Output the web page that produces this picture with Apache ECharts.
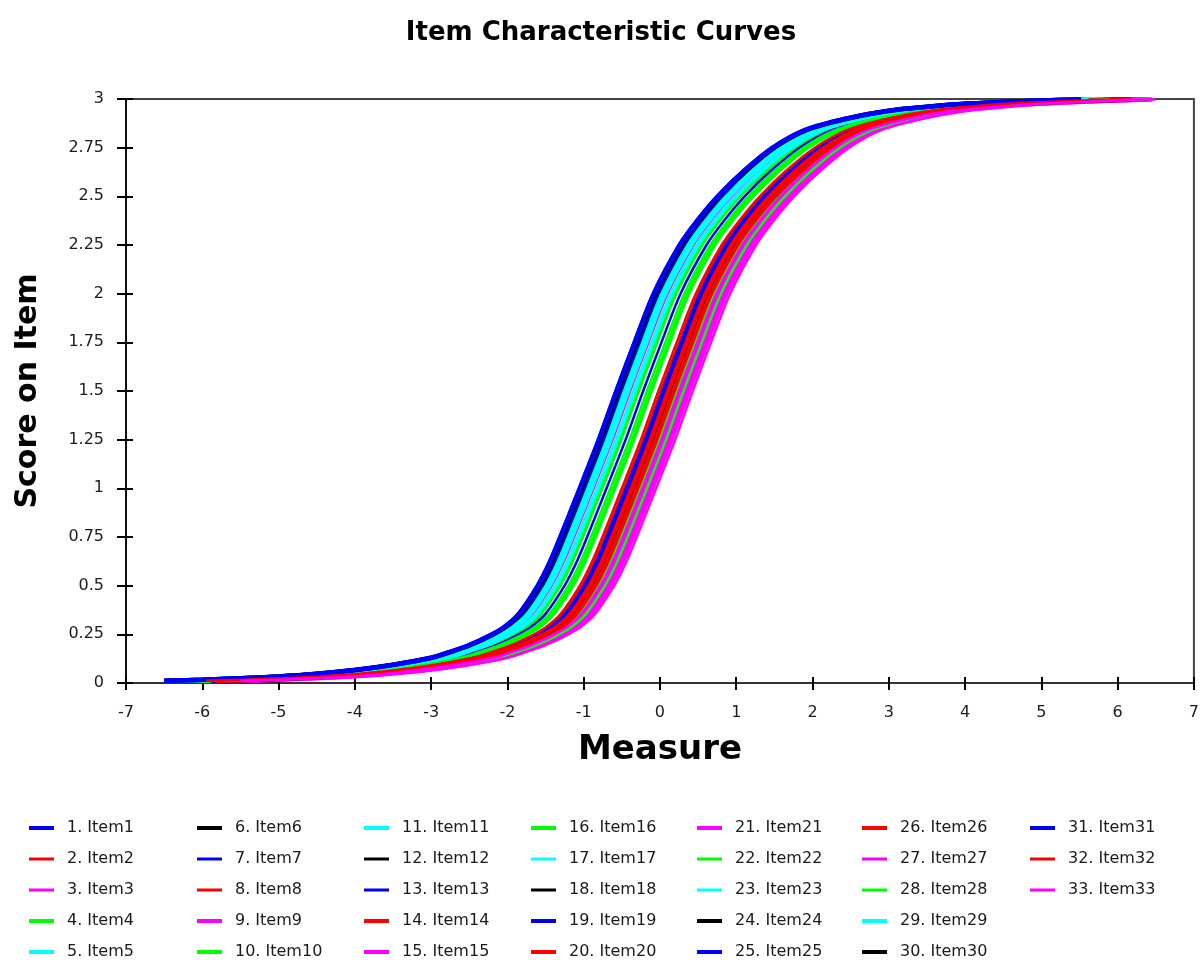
<!DOCTYPE html>
<html>
<head>
<meta charset="utf-8">
<script src="https://cdn.jsdelivr.net/npm/echarts@6/dist/echarts.min.js"></script>
<style>
html,body{margin:0;padding:0;background:#fff;}
#chart{width:1202px;height:960px;}
</style>
</head>
<body>
<div id="chart"></div>
<script>
// Reference curve (item located at 0): measure relative to item, expected score
const relMeasure = [-5.9,-5.4,-4.9,-4.4,-3.9,-3.4,-2.9,-2.4,-2.15,-1.9,-1.65,-1.45,-1.25,-1.0,-0.85,-0.72,-0.45,-0.2,0.03,0.27,0.52,0.86,1.1,1.36,1.7,2.08,2.5,3.05,3.6,4.1,4.6,5.1,5.6,6.1];
const baseScore  = [0.012,0.017,0.024,0.034,0.048,0.067,0.094,0.13,0.16,0.195,0.24,0.285,0.355,0.5,0.615,0.735,1.0,1.25,1.5,1.75,2.0,2.25,2.38,2.5,2.63,2.75,2.84,2.9,2.94,2.96,2.975,2.985,2.992,2.997];

// Items: names, location (logits), colour, thick/thin
const itemNames = ["1. Item1","2. Item2","3. Item3","4. Item4","5. Item5","6. Item6","7. Item7","8. Item8","9. Item9","10. Item10","11. Item11","12. Item12","13. Item13","14. Item14","15. Item15","16. Item16","17. Item17","18. Item18","19. Item19","20. Item20","21. Item21","22. Item22","23. Item23","24. Item24","25. Item25","26. Item26","27. Item27","28. Item28","29. Item29","30. Item30","31. Item31","32. Item32","33. Item33"];
const itemLocation = [-0.60,0.05,-0.42,-0.32,-0.50,0.00,-0.25,0.12,0.30,0.20,-0.45,0.02,0.10,0.00,0.35,-0.15,-0.38,0.10,-0.55,0.15,0.25,0.28,-0.35,0.08,0.02,0.08,0.22,-0.20,-0.48,-0.58,-0.60,-0.05,0.40];
const itemColors = ["#0000ff","#ff0000","#ff00ff","#00ff00","#00ffff","#000000","#0000ff","#ff0000","#ff00ff","#00ff00","#00ffff","#000000","#0000ff","#ff0000","#ff00ff","#00ff00","#00ffff","#000000","#0000ff","#ff0000","#ff00ff","#00ff00","#00ffff","#000000","#0000ff","#ff0000","#ff00ff","#00ff00","#00ffff","#000000","#0000ff","#ff0000","#ff00ff"];
const itemThick = [1,0,0,1,1,1,0,0,1,1,1,0,0,1,1,1,0,0,1,1,1,0,0,1,1,1,0,0,1,1,1,0,0];

const xTicks = [-7,-6,-5,-4,-3,-2,-1,0,1,2,3,4,5,6,7];
const yTicks = [0,0.25,0.5,0.75,1,1.25,1.5,1.75,2,2.25,2.5,2.75,3];

const legendColumnsLeft = [29,197,364,531,697,862,1030];
const legendRowsCenter = [828,859,890,921,952];

const chart = echarts.init(document.getElementById('chart'), null, {renderer:'canvas'});

const series = itemNames.map((name, k) => ({
  name: name,
  type: 'line',
  xAxisIndex: 0,
  yAxisIndex: 0,
  symbol: 'none',
  smooth: 0.3,
  clip: false,
  silent: true,
  data: relMeasure.map((m, i) => [m + itemLocation[k], baseScore[i]]),
  lineStyle: { color: itemColors[k], width: itemThick[k] ? 4.5 : 2.5 },
  itemStyle: { color: itemColors[k] },
  z: 2
}));

// one legend block per item, laid out column by column (5 rows per column)
const legends = itemNames.map((n, k) => {
  const col = Math.floor(k / 5), row = k % 5;
  return {
    orient: 'vertical',
    left: legendColumnsLeft[col],
    top: legendRowsCenter[row] - 8,
    padding: 0,
    itemWidth: 25,
    itemHeight: itemThick[k] ? 4 : 3,
    selectedMode: false,
    data: [{ name: n, icon: 'rect', itemStyle: { color: itemColors[k] } }],
    textStyle: { fontFamily: 'DejaVu Sans', fontSize: 16, color: '#1a1a1a', lineHeight: 16, padding: [0,0,0,8] }
  };
});

const axisFont = { fontFamily: 'DejaVu Sans', fontSize: 16, color: '#1a1a2a' };

const option = {
  animation: false,
  backgroundColor: '#ffffff',
  title: {
    text: 'Item Characteristic Curves',
    left: 'center',
    top: 15,
    textStyle: { fontFamily: 'DejaVu Sans', fontWeight: 'bold', fontSize: 26, color: '#000' }
  },
  grid: {
    left: 126, right: 4, top: 99, bottom: 277,
    show: true, borderColor: '#444', borderWidth: 2, backgroundColor: 'transparent'
  },
  legend: legends,
  xAxis: [{
    type: 'value', min: -7, max: 7, interval: 1,
    name: 'Measure', nameLocation: 'middle', nameGap: 50,
    nameTextStyle: { fontFamily: 'DejaVu Sans', fontWeight: 'bold', fontSize: 34, color: '#000' },
    axisLine: { show: true, onZero: false, lineStyle: { color: '#333', width: 2 } },
    axisTick: { show: true, inside: false, length: 7, lineStyle: { color: '#000', width: 2 } },
    axisLabel: Object.assign({ margin: 22, formatter: (v) => xTicks.includes(v) ? String(v) : '' }, axisFont),
    splitLine: { show: false }
  }, {
    type: 'value', min: -7, max: 7, interval: 1, position: 'bottom',
    axisLine: { show: false, onZero: false },
    axisTick: { show: true, inside: true, length: 6, lineStyle: { color: '#000', width: 2 } },
    axisLabel: { show: false },
    splitLine: { show: false }
  }],
  yAxis: [{
    type: 'value', min: 0, max: 3, interval: 0.25,
    name: 'Score on Item', nameLocation: 'middle', nameGap: 83, nameRotate: 90,
    nameTextStyle: { fontFamily: 'DejaVu Sans', fontWeight: 'bold', fontSize: 30, color: '#000' },
    axisLine: { show: true, onZero: false, lineStyle: { color: '#111', width: 2 } },
    axisTick: { show: true, inside: false, length: 9, lineStyle: { color: '#000', width: 2 } },
    axisLabel: Object.assign({ margin: 22, formatter: (v) => yTicks.includes(v) ? String(v) : '' }, axisFont),
    splitLine: { show: false }
  }, {
    type: 'value', min: 0, max: 3, interval: 0.25, position: 'left',
    axisLine: { show: false, onZero: false },
    axisTick: { show: true, inside: true, length: 7, lineStyle: { color: '#000', width: 2 } },
    axisLabel: { show: false },
    splitLine: { show: false }
  }],
  series: series
};

chart.setOption(option);
</script>
</body>
</html>
